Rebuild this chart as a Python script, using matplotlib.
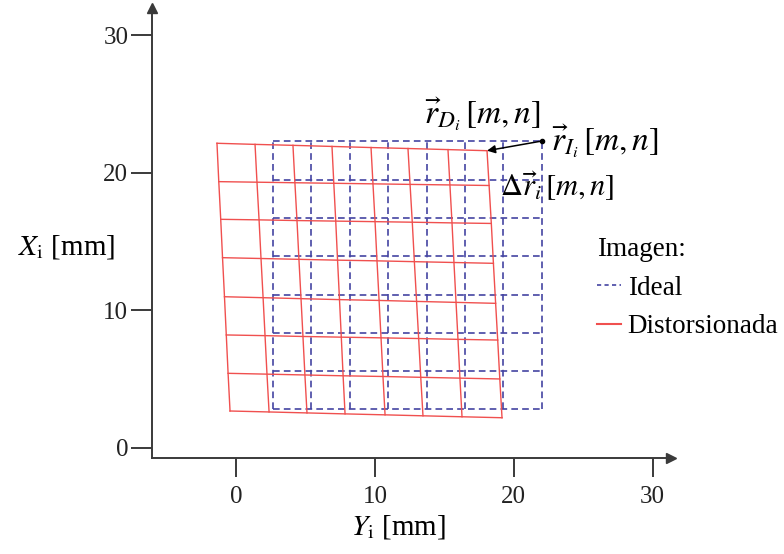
import numpy as np
import matplotlib.pyplot as plt
from matplotlib.lines import Line2D

plt.rcParams['font.family'] = ['Liberation Serif', 'DejaVu Serif']
plt.rcParams['mathtext.fontset'] = 'stix'

# ideal (undistorted) grid lines, mm
ideal_cols = [2.65, 5.4, 8.2, 10.95, 13.75, 16.5, 19.25, 22.0]
ideal_rows = [2.8, 5.58, 8.36, 11.14, 13.92, 16.7, 19.48, 22.3]

# distorted grid nodes, row by row from the top (mm)
dist_x = np.array([
    [-1.37, 1.37, 4.10, 6.91, 9.72, 12.38, 15.26, 18.07],
    [-1.24, 1.51, 4.24, 7.04, 9.86, 12.53, 15.40, 18.22],
    [-1.10, 1.66, 4.39, 7.18, 10.01, 12.69, 15.55, 18.38],
    [-0.97, 1.80, 4.53, 7.31, 10.15, 12.84, 15.69, 18.53],
    [-0.83, 1.95, 4.68, 7.45, 10.30, 13.00, 15.84, 18.69],
    [-0.70, 2.09, 4.82, 7.58, 10.44, 13.15, 15.98, 18.84],
    [-0.57, 2.23, 4.96, 7.71, 10.58, 13.30, 16.12, 18.99],
    [-0.43, 2.38, 5.11, 7.85, 10.73, 13.46, 16.27, 19.15],
])
dist_y = np.array([
    [22.14, 22.06, 21.99, 21.91, 21.83, 21.76, 21.68, 21.60],
    [19.35, 19.31, 19.27, 19.23, 19.19, 19.15, 19.11, 19.07],
    [16.61, 16.57, 16.52, 16.48, 16.44, 16.40, 16.35, 16.31],
    [13.82, 13.76, 13.70, 13.64, 13.59, 13.53, 13.47, 13.41],
    [10.98, 10.91, 10.84, 10.77, 10.71, 10.64, 10.57, 10.50],
    [8.20, 8.15, 8.09, 8.04, 7.99, 7.94, 7.88, 7.83],
    [5.41, 5.35, 5.29, 5.23, 5.18, 5.12, 5.06, 5.00],
    [2.67, 2.60, 2.53, 2.46, 2.39, 2.32, 2.25, 2.18],
])

ticks = [0, 10, 20, 30]

blue = '#4444a2'
red = '#f0504f'
axc = '#3a3a3a'

fig = plt.figure(figsize=(7.84, 5.54), dpi=100)
ax = fig.add_axes([0, 0, 1, 1])
ax.set_xlim(-16.99, 39.45)
ax.set_ylim(-7.73, 32.56)

# ideal grid
dash = (0, (4, 2.5))
for c in ideal_cols:
    ax.plot([c, c], [ideal_rows[0], ideal_rows[-1]], color=blue, lw=1.2, ls=dash)
for r in ideal_rows:
    ax.plot([ideal_cols[0], ideal_cols[-1]], [r, r], color=blue, lw=1.2, ls=dash)

# distorted grid
for i in range(dist_x.shape[0]):
    ax.plot(dist_x[i], dist_y[i], color=red, lw=1.0)
for j in range(dist_x.shape[1]):
    ax.plot(dist_x[:, j], dist_y[:, j], color=red, lw=1.0)

# displacement vector between the corner nodes
ax.plot(ideal_cols[-1], ideal_rows[-1], 'o', color='black', ms=3)
ax.annotate('', xy=(dist_x[0, -1], dist_y[0, -1]),
            xytext=(ideal_cols[-1], ideal_rows[-1]),
            arrowprops=dict(arrowstyle='-|>', color='black', lw=1.1,
                            mutation_scale=12, shrinkA=0, shrinkB=0))

ax.text(13.5, 23.6, r'$\vec{r}_{D_i}\,[m,n]$', fontsize=24)
ax.text(22.7, 21.6, r'$\vec{r}_{I_i}\,[m,n]$', fontsize=24)
ax.text(19.0, 18.3, r'$\Delta\vec{r}_i\,[m,n]$', fontsize=22)

# axes drawn as arrows through the data frame
x0, y0 = -6.05, -0.75
for side in ['top', 'right']:
    ax.spines[side].set_visible(False)
ax.spines['left'].set_position(('data', x0))
ax.spines['bottom'].set_position(('data', y0))
ax.spines['left'].set_bounds(y0, 32.0)
ax.spines['bottom'].set_bounds(x0, 31.3)
for side in ['left', 'bottom']:
    ax.spines[side].set_color(axc)
    ax.spines[side].set_linewidth(1.4)
ax.plot(31.3, y0, marker='>', color=axc, ms=7, clip_on=False)
ax.plot(x0, 32.0, marker='^', color=axc, ms=7, clip_on=False)

ax.set_xticks(ticks)
ax.set_yticks(ticks)
ax.tick_params(axis='x', direction='out', length=14, width=1.4, color=axc,
               labelsize=18, labelcolor='#222222', pad=6)
ax.tick_params(axis='y', direction='out', length=15, width=1.4, color=axc,
               labelsize=18, labelcolor='#222222', pad=2)

fig.text(0.085, 0.555, r'$X_\mathrm{i}$ [mm]', fontsize=21, ha='center', va='center')
fig.text(0.508, 0.048, r'$Y_\mathrm{i}$ [mm]', fontsize=21, ha='center', va='center')

handles = [Line2D([], [], color=blue, lw=1.2, ls=(0, (2.5, 2))),
           Line2D([], [], color=red, lw=1.5)]
leg = ax.legend(handles, ['Ideal', 'Distorsionada'], title='Imagen:',
                loc='upper left', bbox_to_anchor=(0.761, 0.572), frameon=False,
                fontsize=19.5, title_fontsize=19.5, handlelength=0.9,
                handletextpad=0.25, labelspacing=0.5, borderaxespad=0,
                borderpad=0, alignment='left')

fig.savefig('out.png', dpi=100)
